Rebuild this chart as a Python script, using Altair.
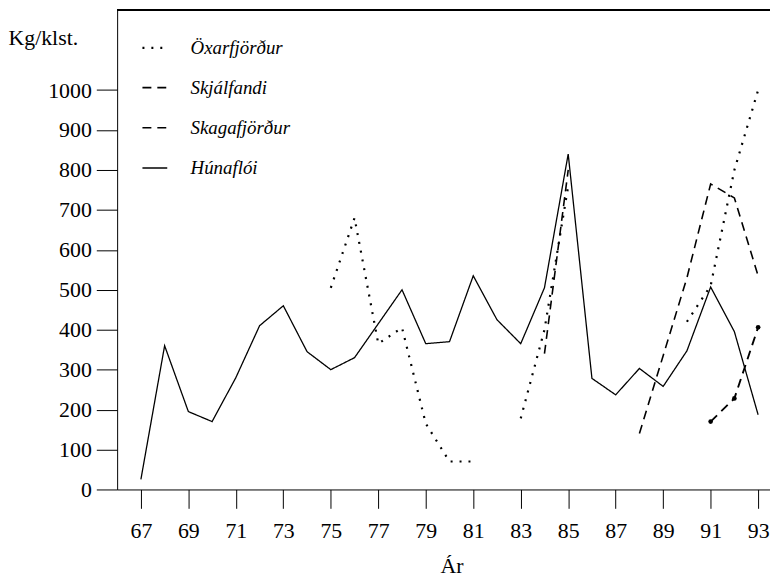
import altair as alt
import pandas as pd

years = list(range(67, 94))
series_names = ["Öxarfjörður", "Skjálfandi", "Skagafjörður", "Húnaflói"]

N = None
oxarfjordur = [N, N, N, N, N, N, N, N, 505, 680, 365, 405, 165, 70, 70, N, 178, 400, 760, N, N, N, N, 420, 510, 800, 1000]
skjalfandi = [N] * 24 + [170, 228, 406]
skagafjordur = [N] * 17 + [340, 800, N, N, 140, 335, 530, 765, 730, 535]
hunafloi = [25, 360, 195, 170, 280, 410, 460, 345, 300, 330, 415, 500, 365, 370, 535, 425, 365, 505, 840, 278, 237, 303, 258, 347, 507, 395, 187]

x_ticks = list(range(67, 94, 2))
y_ticks = list(range(0, 1001, 100))

rows = []
for name, vals in zip(series_names, [oxarfjordur, skjalfandi, skagafjordur, hunafloi]):
    seg = 0
    prev = None
    for yr, v in zip(years, vals):
        if v is None:
            if prev is not None:
                seg += 1
            prev = None
            continue
        rows.append({"Ár": yr, "val": v, "series": name, "seg": f"{name}-{seg}"})
        prev = v
df = pd.DataFrame(rows)

FONT = "Liberation Serif"

x = alt.X("Ár:Q", scale=alt.Scale(domain=[66, 93.5], nice=False, zero=False),
          axis=alt.Axis(values=x_ticks, format="d", title="Ár", grid=False,
                        tickSize=19, labelPadding=12, titleY=84, titleX=337,
                        titleBaseline="alphabetic"))
y = alt.Y("val:Q", scale=alt.Scale(domain=[0, 1200], nice=False),
          axis=alt.Axis(values=y_ticks, format="d", title="Kg/klst.", grid=False, tickSize=21,
                        labelPadding=5, titleAngle=0, titleX=-110, titleY=35,
                        titleAlign="left", titleBaseline="alphabetic"))

lines = alt.Chart(df).mark_line(color="black").encode(
    x=x, y=y,
    detail="seg:N",
    strokeDash=alt.StrokeDash("series:N",
        scale=alt.Scale(domain=series_names, range=[[2, 7], [9, 6], [9, 6], [1, 0]]),
        legend=alt.Legend(title=None, orient="none", legendX=24, legendY=24,
                          symbolType="stroke", symbolSize=625, symbolStrokeColor="black",
                          symbolStrokeWidth=1.6, labelFont=FONT, labelFontStyle="italic",
                          labelFontSize=19, labelOffset=22, rowPadding=16.5, padding=0,
                          labelColor="black")),
    strokeWidth=alt.StrokeWidth("series:N",
        scale=alt.Scale(domain=series_names, range=[2.2, 1.3, 1.3, 1.3]), legend=None),
)

points = alt.Chart(df[df["series"] == "Skjálfandi"]).mark_circle(color="black", size=22, opacity=1).encode(
    x="Ár:Q", y="val:Q"
)

top_border = alt.Chart(df).mark_rule(color="black", strokeWidth=1).encode(
    x=alt.value(0), x2=alt.value(658), y=alt.value(0)
)

chart = alt.layer(lines, points, top_border).properties(
    width=658, height=483,
    background="white",
    autosize=alt.AutoSizeParams(type="none"),
    padding={"left": 110, "top": 0, "right": 0, "bottom": 88},
).configure_view(stroke=None).configure_axis(
    labelFont=FONT, titleFont=FONT, labelFontSize=22, titleFontSize=22,
    labelColor="black", titleColor="black", titleFontWeight="normal",
    domainColor="black", tickColor="black", domainWidth=1, tickWidth=1,
)

chart.save("out.html", embed_options={"renderer": "svg", "actions": False})
